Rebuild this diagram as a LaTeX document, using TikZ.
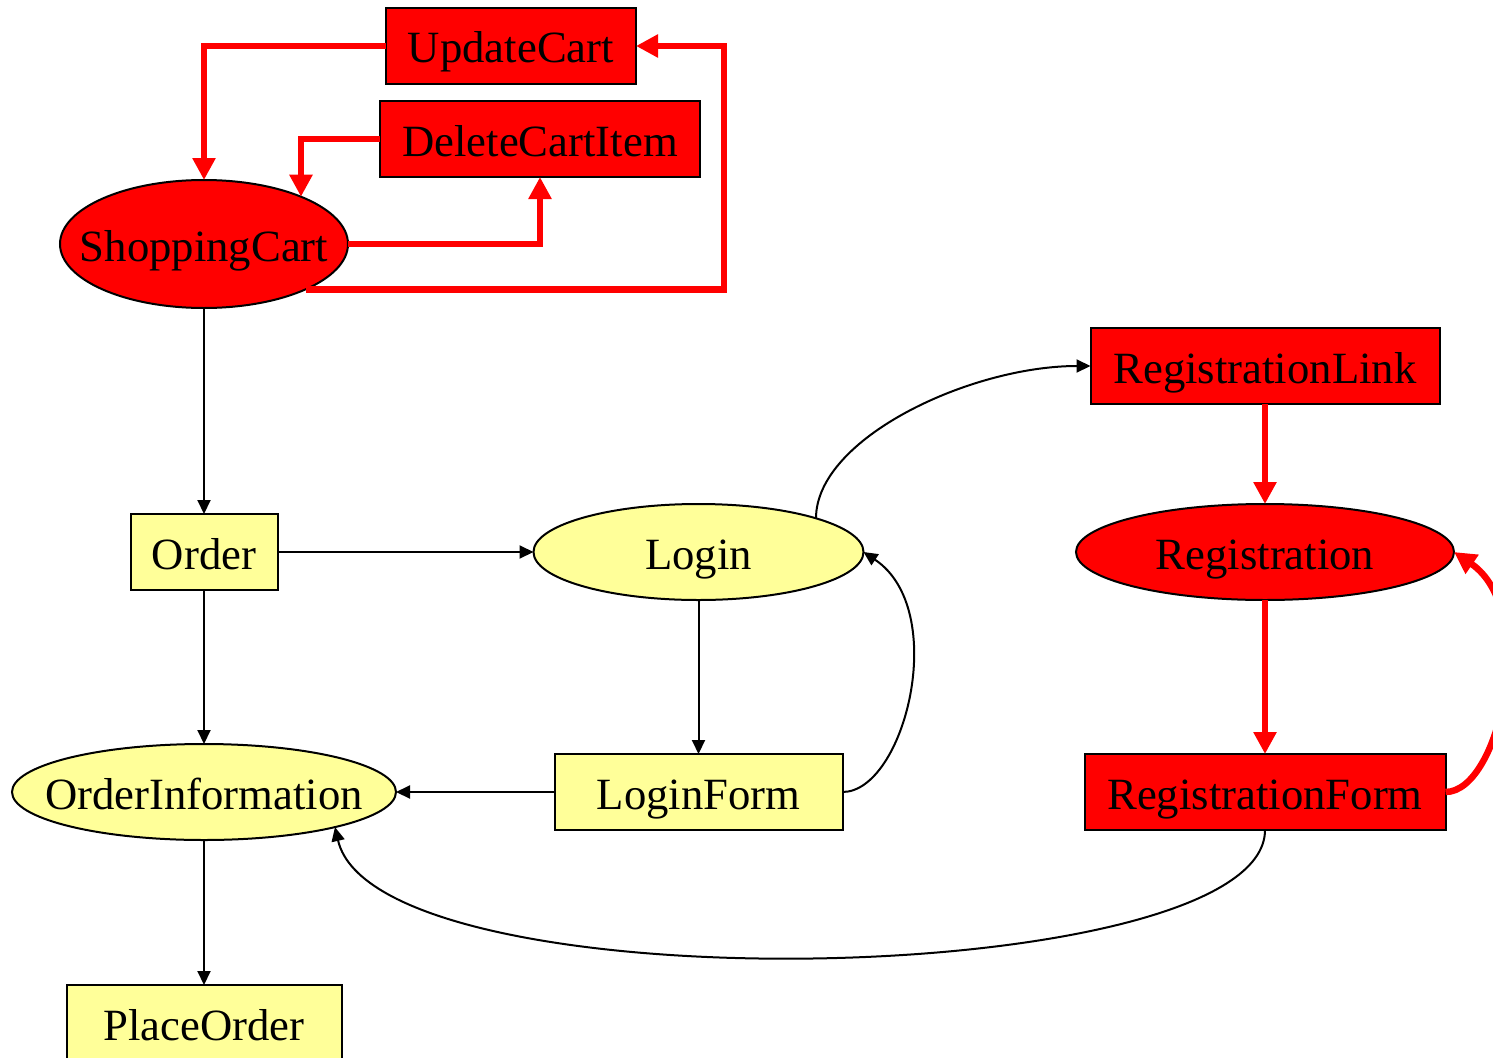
\documentclass[tikz,border=0pt]{standalone}
\usepackage{fontspec}
\setmainfont{Liberation Serif}
\usetikzlibrary{shapes.geometric,arrows.meta}
\definecolor{pale}{HTML}{FFFF99}
\definecolor{hot}{HTML}{FF0000}

\begin{document}
\begin{tikzpicture}[x=1pt,y=-1pt,
  every node/.style={inner sep=0pt, outer sep=0pt, text height=34pt, text depth=0pt,
    font=\fontsize{44.7}{50}\selectfont, draw=black, line width=2pt},
  box/.style={rectangle, minimum height=76pt},
  oval/.style={ellipse, minimum height=96pt},
  yel/.style={fill=pale},
  rd/.style={fill=hot},
  flow/.style={draw=black, line width=2pt, -{Triangle[length=14pt,width=13pt]}},
  hotflow/.style={draw=hot, line width=6.5pt, -{Triangle[length=22pt,width=22pt]}},
]
\useasboundingbox (0,0) rectangle (1493,1057);
\clip (0,0) rectangle (1493,1057);

% shopping cart cluster
\node[box,rd,minimum width=250pt] (uc) at (511,46) {UpdateCart};
\node[box,rd,minimum width=320pt] (dci) at (540,139) {DeleteCartItem};
\node[oval,rd,minimum width=288pt,minimum height=128pt] (sc) at (204,244) {\makebox[0pt]{ShoppingCart}};

% ordering and login
\node[box,yel,minimum width=147pt] (ord) at (204,552) {Order};
\node[oval,yel,minimum width=330pt] (lg) at (698.5,552) {\makebox[0pt]{Login}};
\node[oval,yel,minimum width=384pt] (oi) at (204,792) {\makebox[0pt]{OrderInformation}};
\node[box,yel,minimum width=288pt] (lf) at (698.5,792) {LoginForm};
\node[box,yel,minimum width=275pt] (po) at (204,1023) {PlaceOrder};

% registration
\node[box,rd,minimum width=349pt] (rl) at (1265,366) {RegistrationLink};
\node[oval,rd,minimum width=378pt] (reg) at (1265,552) {\makebox[0pt]{Registration}};
\node[box,rd,minimum width=361pt] (rf) at (1265,792) {RegistrationForm};

% cart loops
\coordinate (ucbend) at (724,46);
\draw[hotflow] (uc.west) -| (sc.north);
\draw[hotflow] (dci.west) -| (sc.26);
\draw[hotflow] (sc.east) -| (dci.south);
\draw[hotflow] (sc.-24) -| (ucbend) -- (uc.east);

% main flow
\draw[flow] (sc.south) -- (ord.north);
\draw[flow] (ord.east) -- (lg.west);
\draw[flow] (ord.south) -- (oi.north);
\draw[flow] (lg.south) -- (lf.north);
\draw[flow] (lf.west) -- (oi.east);
\draw[flow] (oi.south) -- (po.north);
\draw[flow] (lf.east) .. controls +(62,0) and +(87,58) .. (lg.east);
\draw[flow] (lg.16) .. controls +(0,-80) and +(-120,0) .. (rl.west);

% registration flow
\draw[hotflow] (rl.south) -- (reg.north);
\draw[hotflow] (reg.south) -- (rf.north);
\draw[hotflow] (rf.east) .. controls +(55,0) and +(85,58) .. (reg.east);
\draw[flow] (rf.south) .. controls +(0,160) and +(42,182) .. (oi.-15);
\end{tikzpicture}
\end{document}
